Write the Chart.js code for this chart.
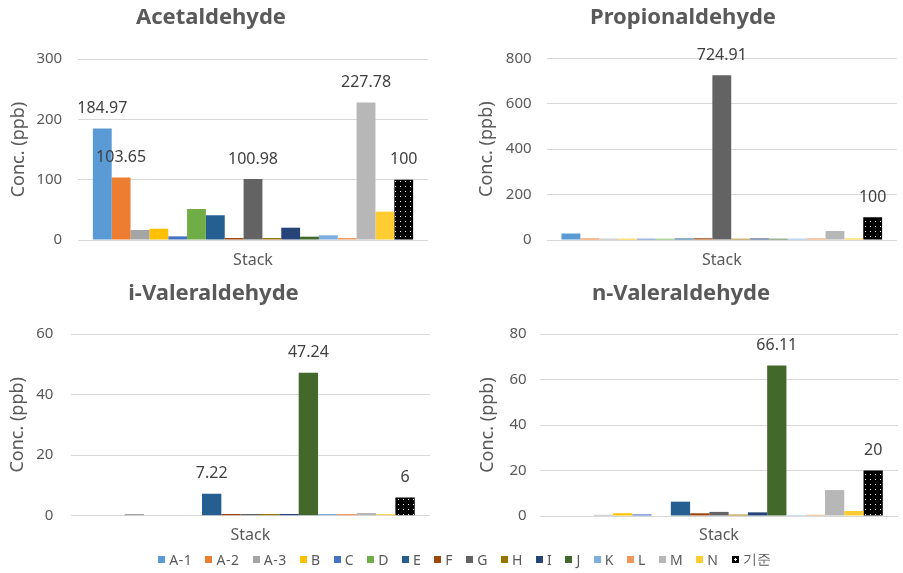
<!DOCTYPE html>
<html>
<head>
<meta charset="utf-8">
<script src="https://cdn.jsdelivr.net/npm/chart.js@4/dist/chart.umd.min.js"></script>
<style>
  html, body { margin: 0; padding: 0; background: #ffffff; }
  #wrap { position: relative; width: 903px; height: 573px; overflow: hidden; background: #fff; }
  #wrap canvas { position: absolute; }
  #legend {
    position: absolute; left: 0; top: 549px; width: 903px;
    display: flex; justify-content: center; align-items: center; gap: 13px;
    font: 14px 'Noto Sans', sans-serif; color: #595959; letter-spacing: 0.6px;
    padding-left: 27px; box-sizing: border-box;
  }
  #legend .item { display: flex; align-items: center; gap: 4px; white-space: nowrap; }
  #legend .sw { width: 7px; height: 7px; display: inline-block; }
</style>
</head>
<body>
<div id="wrap">
  <canvas id="acet"></canvas>
  <canvas id="prop"></canvas>
  <canvas id="ival"></canvas>
  <canvas id="nval"></canvas>
  <div id="legend"></div>
</div>
<script>
// Sampling points (one series per site) and the single x category
const seriesNames = ['A-1', 'A-2', 'A-3', 'B', 'C', 'D', 'E', 'F', 'G', 'H', 'I', 'J', 'K', 'L', 'M', 'N', '기준'];
const categories = ['Stack'];

// Concentrations (ppb) per site, in seriesNames order
const acetaldehyde    = [184.97, 103.65, 16.6, 18.7, 6, 51.4, 41, 3.3, 100.98, 3.3, 20.4, 5.5, 7.8, 3.3, 227.78, 47, 100];
const propionaldehyde = [29, 7, 6, 6, 6, 6, 7, 8, 724.91, 6, 7, 6, 6, 7, 40, 7, 100];
const iValeraldehyde  = [0, 0, 0.6, 0, 0, 0, 7.22, 0.6, 0.6, 0.6, 0.6, 47.24, 0.6, 0.6, 0.9, 0.5, 6];
const nValeraldehyde  = [0, 0, 0.5, 1.2, 0.7, 0, 6.3, 1.2, 1.8, 0.6, 1.6, 66.11, 0.4, 0.5, 11.4, 2.2, 20];

// Sites whose value is printed above the bar
const acetLabelled = ['A-1', 'A-2', 'G', 'M', '기준'];
const propLabelled = ['G', '기준'];
const ivalLabelled = ['E', 'J', '기준'];
const nvalLabelled = ['J', '기준'];

// Y-axis tick values
const acetTicks = [0, 100, 200, 300];
const propTicks = [0, 200, 400, 600, 800];
const ivalTicks = [0, 20, 40, 60];
const nvalTicks = [0, 20, 40, 60, 80];

// Office-style series colours; the reference level uses a dotted black fill
const seriesColors = ['#5B9BD5', '#ED7D31', '#A5A5A5', '#FFC000', '#4472C4', '#70AD47', '#255E91', '#9E480E',
  '#636363', '#997300', '#264478', '#43682B', '#7CAFDD', '#F1975A', '#B7B7B7', '#FFCD33', null];

function dotPattern() {
  const c = document.createElement('canvas');
  c.width = 5; c.height = 5;
  const g = c.getContext('2d');
  g.fillStyle = '#000'; g.fillRect(0, 0, 5, 5);
  g.fillStyle = '#fff'; g.fillRect(1, 1, 1, 1);
  return g.createPattern(c, 'repeat');
}
const refFill = dotPattern();

Chart.defaults.font.family = "'Noto Sans', sans-serif";
Chart.defaults.color = '#595959';

// Writes the value above selected bars
const valueLabels = {
  id: 'valueLabels',
  afterDatasetsDraw(chart, args, opts) {
    const ctx = chart.ctx;
    ctx.save();
    ctx.font = "16px 'Noto Sans', sans-serif";
    ctx.fillStyle = '#404040';
    ctx.textAlign = 'center';
    ctx.textBaseline = 'middle';
    chart.data.datasets.forEach((ds, i) => {
      if (!opts.names.includes(ds.label)) return;
      const meta = chart.getDatasetMeta(i);
      meta.data.forEach((bar, j) => {
        ctx.fillText(String(ds.data[j]), bar.x, bar.y - 20);
      });
    });
    ctx.restore();
  }
};

// Panel placement on the page
const panels = [
  { id: 'acet', title: 'Acetaldehyde', values: acetaldehyde, ticks: acetTicks, labelled: acetLabelled,
    left: -6, top: 0, width: 434, height: 280, yW: 84, xH: 40, tPad: [4.8, 27.8], yTitlePad: 13.7, yTickPad: 15.8, xTickPad: 10.4 },
  { id: 'prop', title: 'Propionaldehyde', values: propionaldehyde, ticks: propTicks, labelled: propLabelled,
    left: 469, top: 0, width: 428, height: 280, yW: 77.6, xH: 40, tPad: [4.8, 27.1], yTitlePad: 6.9, yTickPad: 15, xTickPad: 10.4 },
  { id: 'ival', title: 'i-Valeraldehyde', values: iValeraldehyde, ticks: ivalTicks, labelled: ivalLabelled,
    left: -3, top: 278, width: 433, height: 268, yW: 73.7, xH: 30.3, tPad: [2.8, 26.8], yTitlePad: 10.5, yTickPad: 17.4, xTickPad: 9.7 },
  { id: 'nval', title: 'n-Valeraldehyde', values: nValeraldehyde, ticks: nvalTicks, labelled: nvalLabelled,
    left: 464, top: 278, width: 434, height: 268, yW: 76, xH: 30, tPad: [2.8, 26.8], yTitlePad: 12.7, yTickPad: 13.3, xTickPad: 9.7 }
];

panels.forEach(p => {
  const cv = document.getElementById(p.id);
  cv.width = p.width; cv.height = p.height;
  cv.style.left = p.left + 'px'; cv.style.top = p.top + 'px';
  cv.style.width = p.width + 'px'; cv.style.height = p.height + 'px';

  const datasets = seriesNames.map((name, i) => ({
    label: name,
    data: [p.values[i]],
    backgroundColor: seriesColors[i] || refFill,
    borderWidth: 0,
    categoryPercentage: 0.915,
    barPercentage: 1
  }));

  new Chart(cv, {
    type: 'bar',
    data: { labels: categories, datasets },
    plugins: [valueLabels],
    options: {
      responsive: false,
      animation: false,
      devicePixelRatio: 1,
      layout: { padding: 0 },
      plugins: {
        legend: { display: false },
        tooltip: { enabled: false },
        title: {
          display: true, text: p.title, color: '#595959',
          font: { size: 22, weight: 'bold', lineHeight: 1.2 },
          padding: { top: p.tPad[0], bottom: p.tPad[1] }
        },
        valueLabels: { names: p.labelled }
      },
      scales: {
        x: {
          grid: { display: false, drawTicks: false },
          border: { display: false },
          ticks: { font: { size: 16 }, color: '#595959', padding: p.xTickPad },
          afterFit: s => { s.height = p.xH; }
        },
        y: {
          min: p.ticks[0],
          max: p.ticks[p.ticks.length - 1],
          ticks: { stepSize: p.ticks[1] - p.ticks[0], font: { size: 15 }, color: '#595959', padding: p.yTickPad },
          grid: { color: '#D9D9D9', lineWidth: 1, drawTicks: false },
          border: { display: false },
          title: { display: true, text: 'Conc. (ppb)', color: '#595959', font: { size: 18 }, padding: { top: p.yTitlePad, bottom: 0 } },
          afterFit: s => { s.width = p.yW; }
        }
      }
    }
  });
});

// Shared legend
const legend = document.getElementById('legend');
seriesNames.forEach((name, i) => {
  const item = document.createElement('span');
  item.className = 'item';
  const sw = document.createElement('span');
  sw.className = 'sw';
  if (seriesColors[i]) {
    sw.style.background = seriesColors[i];
  } else {
    sw.style.background = 'radial-gradient(circle at 50% 50%, #fff 0 1px, #000 1.2px)';
  }
  const txt = document.createElement('span');
  txt.textContent = name;
  item.appendChild(sw);
  item.appendChild(txt);
  legend.appendChild(item);
});
</script>
</body>
</html>
